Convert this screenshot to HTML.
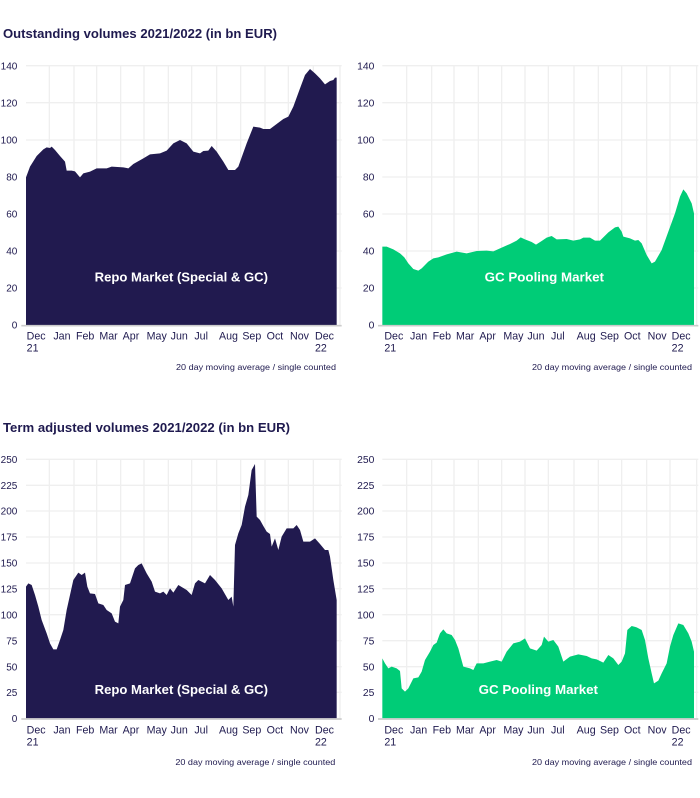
<!DOCTYPE html>
<html><head><meta charset="utf-8"><style>
body{margin:0;background:#fff;width:700px;height:798px;position:relative;overflow:hidden;font-family:"Liberation Sans",sans-serif}
svg{position:absolute}
.t{font-family:"Liberation Sans",sans-serif;fill:#1f1a4f}
</style></head><body>
<svg width="700" height="798" style="left:0;top:0">
<text class="t" x="3" y="38" font-size="13" font-weight="bold" textLength="274" lengthAdjust="spacingAndGlyphs">Outstanding volumes 2021/2022 (in bn EUR)</text>
<text class="t" x="3" y="432" font-size="13" font-weight="bold" textLength="287" lengthAdjust="spacingAndGlyphs">Term adjusted volumes 2021/2022 (in bn EUR)</text>
</svg>

<!-- Top left -->
<svg style="left:0;top:50px" width="350" height="330" viewBox="0 0 1050 990">
<g stroke="#efefef" stroke-width="4">
<line x1="78" x2="1025" y1="47" y2="47"/><line x1="78" x2="1025" y1="158" y2="158"/><line x1="78" x2="1025" y1="270" y2="270"/><line x1="78" x2="1025" y1="381" y2="381"/><line x1="78" x2="1025" y1="492" y2="492"/><line x1="78" x2="1025" y1="603" y2="603"/><line x1="78" x2="1025" y1="714" y2="714"/>
<line x1="148" x2="148" y1="47" y2="825"/><line x1="222" x2="222" y1="47" y2="825"/><line x1="290" x2="290" y1="47" y2="825"/><line x1="362" x2="362" y1="47" y2="825"/><line x1="432" x2="432" y1="47" y2="825"/><line x1="505" x2="505" y1="47" y2="825"/><line x1="575" x2="575" y1="47" y2="825"/><line x1="650" x2="650" y1="47" y2="825"/><line x1="722" x2="722" y1="47" y2="825"/><line x1="795" x2="795" y1="47" y2="825"/><line x1="865" x2="865" y1="47" y2="825"/><line x1="940" x2="940" y1="47" y2="825"/><line x1="1020" x2="1020" y1="47" y2="825"/>
</g>
<path fill="#211a4f" d="M78,382 L90,350 110,318 130,298 140,292 150,294 155,290 165,300 180,318 195,335 200,362 215,362 225,364 240,382 250,370 270,365 290,355 320,355 335,350 370,352 385,355 400,342 430,325 450,313 480,310 500,302 520,280 540,270 560,280 580,305 600,310 610,303 625,302 635,288 650,305 670,335 685,360 705,360 715,350 740,280 760,230 780,233 790,237 810,237 830,222 850,207 865,200 880,170 900,115 915,75 930,57 945,70 960,85 975,103 990,93 1000,90 1005,83 1010,83 1010,825 78,825Z"/>
<line x1="64" x2="1025" y1="827" y2="827" stroke="#ccc" stroke-width="5"/>
<g class="t" font-size="30" text-anchor="end">
<text x="52" y="58">140</text><text x="52" y="169">120</text><text x="52" y="281">100</text><text x="52" y="392">80</text><text x="52" y="503">60</text><text x="52" y="614">40</text><text x="52" y="725">20</text><text x="52" y="836">0</text>
</g>
<g class="t" font-size="32">
<text x="80" y="868">Dec</text><text x="160" y="868">Jan</text><text x="228" y="868">Feb</text><text x="298" y="868">Mar</text><text x="368" y="868">Apr</text><text x="440" y="868">May</text><text x="512" y="868">Jun</text><text x="583" y="868">Jul</text><text x="657" y="868">Aug</text><text x="727" y="868">Sep</text><text x="800" y="868">Oct</text><text x="870" y="868">Nov</text><text x="945" y="868">Dec</text>
<text x="80" y="905">21</text><text x="945" y="905">22</text>
</g>
<text class="t" x="528" y="960" font-size="25" textLength="480" lengthAdjust="spacingAndGlyphs">20 day moving average / single counted</text>
<text x="284" y="695" font-size="40" font-weight="bold" fill="#fff" textLength="520" lengthAdjust="spacingAndGlyphs">Repo Market (Special &amp; GC)</text>
</svg>

<!-- Top right -->
<svg style="left:350px;top:50px" width="350" height="330" viewBox="0 0 1050 990">
<g stroke="#efefef" stroke-width="4">
<line x1="97" x2="1045" y1="47" y2="47"/><line x1="97" x2="1045" y1="158" y2="158"/><line x1="97" x2="1045" y1="270" y2="270"/><line x1="97" x2="1045" y1="381" y2="381"/><line x1="97" x2="1045" y1="492" y2="492"/><line x1="97" x2="1045" y1="603" y2="603"/><line x1="97" x2="1045" y1="714" y2="714"/>
<line x1="170" x2="170" y1="47" y2="825"/><line x1="245" x2="245" y1="47" y2="825"/><line x1="312" x2="312" y1="47" y2="825"/><line x1="385" x2="385" y1="47" y2="825"/><line x1="455" x2="455" y1="47" y2="825"/><line x1="525" x2="525" y1="47" y2="825"/><line x1="595" x2="595" y1="47" y2="825"/><line x1="672" x2="672" y1="47" y2="825"/><line x1="745" x2="745" y1="47" y2="825"/><line x1="815" x2="815" y1="47" y2="825"/><line x1="890" x2="890" y1="47" y2="825"/><line x1="960" x2="960" y1="47" y2="825"/><line x1="1040" x2="1040" y1="47" y2="825"/>
</g>
<path fill="#00cc77" d="M97,590 L110,590 130,598 150,610 163,622 175,640 190,657 205,662 215,655 235,635 250,625 265,622 290,613 320,605 350,610 380,603 410,602 430,604 450,595 480,582 500,572 512,562 525,568 545,576 558,584 575,573 590,563 605,558 620,568 650,567 670,572 690,568 700,563 720,563 735,572 750,572 775,547 795,532 805,530 815,545 820,560 840,565 855,572 865,570 875,580 890,615 905,640 915,635 935,600 955,545 975,490 990,440 1000,418 1010,430 1025,460 1032,490 1032,825 97,825Z"/>
<line x1="84" x2="1045" y1="827" y2="827" stroke="#ccc" stroke-width="5"/>
<g class="t" font-size="31" text-anchor="end">
<text x="73" y="58">140</text><text x="73" y="169">120</text><text x="73" y="281">100</text><text x="73" y="392">80</text><text x="73" y="503">60</text><text x="73" y="614">40</text><text x="73" y="725">20</text><text x="73" y="836">0</text>
</g>
<g class="t" font-size="32">
<text x="103" y="868">Dec</text><text x="180" y="868">Jan</text><text x="248" y="868">Feb</text><text x="318" y="868">Mar</text><text x="388" y="868">Apr</text><text x="460" y="868">May</text><text x="532" y="868">Jun</text><text x="603" y="868">Jul</text><text x="680" y="868">Aug</text><text x="750" y="868">Sep</text><text x="822" y="868">Oct</text><text x="893" y="868">Nov</text><text x="965" y="868">Dec</text>
<text x="103" y="905">21</text><text x="965" y="905">22</text>
</g>
<text class="t" x="546" y="960" font-size="25" textLength="480" lengthAdjust="spacingAndGlyphs">20 day moving average / single counted</text>
<text x="404" y="695" font-size="40" font-weight="bold" fill="#fff" textLength="358" lengthAdjust="spacingAndGlyphs">GC Pooling Market</text>
</svg>

<!-- Bottom left -->
<svg style="left:0;top:440px" width="350" height="340" viewBox="0 0 1050 1020">
<g stroke="#efefef" stroke-width="4">
<line x1="78" x2="1025" y1="58" y2="58"/><line x1="78" x2="1025" y1="136" y2="136"/><line x1="78" x2="1025" y1="213" y2="213"/><line x1="78" x2="1025" y1="291" y2="291"/><line x1="78" x2="1025" y1="369" y2="369"/><line x1="78" x2="1025" y1="446" y2="446"/><line x1="78" x2="1025" y1="524" y2="524"/><line x1="78" x2="1025" y1="602" y2="602"/><line x1="78" x2="1025" y1="680" y2="680"/><line x1="78" x2="1025" y1="757" y2="757"/>
<line x1="148" x2="148" y1="58" y2="835"/><line x1="222" x2="222" y1="58" y2="835"/><line x1="290" x2="290" y1="58" y2="835"/><line x1="362" x2="362" y1="58" y2="835"/><line x1="432" x2="432" y1="58" y2="835"/><line x1="505" x2="505" y1="58" y2="835"/><line x1="575" x2="575" y1="58" y2="835"/><line x1="650" x2="650" y1="58" y2="835"/><line x1="722" x2="722" y1="58" y2="835"/><line x1="795" x2="795" y1="58" y2="835"/><line x1="865" x2="865" y1="58" y2="835"/><line x1="940" x2="940" y1="58" y2="835"/><line x1="1020" x2="1020" y1="58" y2="835"/>
</g>
<path fill="#211a4f" d="M78,440 L85,430 95,435 105,465 115,500 125,540 140,580 150,610 160,628 170,628 180,600 190,570 200,510 210,465 220,420 235,398 245,405 255,398 262,440 270,460 285,462 295,490 310,495 320,510 335,520 345,545 355,550 360,500 370,480 375,435 390,430 400,400 405,385 415,375 425,370 440,400 455,425 465,455 480,460 490,455 500,465 510,445 520,458 535,435 560,450 575,465 585,430 595,420 615,430 630,405 645,420 665,445 685,480 695,470 700,500 705,315 715,280 725,255 735,200 745,165 755,90 765,72 770,230 780,240 790,258 800,275 810,282 815,320 825,295 835,330 845,290 860,265 880,265 890,255 900,270 910,305 930,305 945,295 960,312 975,330 985,330 990,350 1000,420 1010,480 1010,835 78,835Z"/>
<line x1="64" x2="1025" y1="837" y2="837" stroke="#ccc" stroke-width="5"/>
<g class="t" font-size="30" text-anchor="end">
<text x="52" y="69">250</text><text x="52" y="147">225</text><text x="52" y="224">200</text><text x="52" y="302">175</text><text x="52" y="380">150</text><text x="52" y="457">125</text><text x="52" y="535">100</text><text x="52" y="613">75</text><text x="52" y="691">50</text><text x="52" y="768">25</text><text x="52" y="846">0</text>
</g>
<g class="t" font-size="32">
<text x="80" y="880">Dec</text><text x="160" y="880">Jan</text><text x="228" y="880">Feb</text><text x="298" y="880">Mar</text><text x="368" y="880">Apr</text><text x="440" y="880">May</text><text x="512" y="880">Jun</text><text x="583" y="880">Jul</text><text x="657" y="880">Aug</text><text x="727" y="880">Sep</text><text x="800" y="880">Oct</text><text x="870" y="880">Nov</text><text x="945" y="880">Dec</text>
<text x="80" y="917">21</text><text x="945" y="917">22</text>
</g>
<text class="t" x="526" y="975" font-size="25" textLength="480" lengthAdjust="spacingAndGlyphs">20 day moving average / single counted</text>
<text x="284" y="762" font-size="40" font-weight="bold" fill="#fff" textLength="520" lengthAdjust="spacingAndGlyphs">Repo Market (Special &amp; GC)</text>
</svg>

<!-- Bottom right -->
<svg style="left:350px;top:440px" width="350" height="340" viewBox="0 0 1050 1020">
<g stroke="#efefef" stroke-width="4">
<line x1="97" x2="1045" y1="58" y2="58"/><line x1="97" x2="1045" y1="136" y2="136"/><line x1="97" x2="1045" y1="213" y2="213"/><line x1="97" x2="1045" y1="291" y2="291"/><line x1="97" x2="1045" y1="369" y2="369"/><line x1="97" x2="1045" y1="446" y2="446"/><line x1="97" x2="1045" y1="524" y2="524"/><line x1="97" x2="1045" y1="602" y2="602"/><line x1="97" x2="1045" y1="680" y2="680"/><line x1="97" x2="1045" y1="757" y2="757"/>
<line x1="170" x2="170" y1="58" y2="835"/><line x1="245" x2="245" y1="58" y2="835"/><line x1="312" x2="312" y1="58" y2="835"/><line x1="385" x2="385" y1="58" y2="835"/><line x1="455" x2="455" y1="58" y2="835"/><line x1="525" x2="525" y1="58" y2="835"/><line x1="595" x2="595" y1="58" y2="835"/><line x1="672" x2="672" y1="58" y2="835"/><line x1="745" x2="745" y1="58" y2="835"/><line x1="815" x2="815" y1="58" y2="835"/><line x1="890" x2="890" y1="58" y2="835"/><line x1="960" x2="960" y1="58" y2="835"/><line x1="1040" x2="1040" y1="58" y2="835"/>
</g>
<path fill="#00cc77" d="M97,655 L105,670 115,685 125,680 140,685 150,693 155,745 165,755 175,745 190,715 205,712 215,695 225,660 240,635 250,615 260,608 270,580 280,568 290,580 305,585 315,600 325,625 340,680 360,685 370,690 380,670 400,670 420,665 440,660 455,665 470,635 490,610 510,605 525,595 540,625 560,632 575,615 582,590 595,605 610,600 625,620 640,665 660,650 685,643 710,648 725,655 740,658 760,668 775,645 790,655 805,675 815,665 825,640 832,570 845,558 860,562 875,570 885,600 895,655 905,700 912,730 925,722 935,700 950,670 960,620 970,585 985,550 1000,555 1015,580 1025,605 1032,635 1032,835 97,835Z"/>
<line x1="84" x2="1045" y1="837" y2="837" stroke="#ccc" stroke-width="5"/>
<g class="t" font-size="31" text-anchor="end">
<text x="73" y="69">250</text><text x="73" y="147">225</text><text x="73" y="224">200</text><text x="73" y="302">175</text><text x="73" y="380">150</text><text x="73" y="457">125</text><text x="73" y="535">100</text><text x="73" y="613">75</text><text x="73" y="691">50</text><text x="73" y="768">25</text><text x="73" y="846">0</text>
</g>
<g class="t" font-size="32">
<text x="103" y="880">Dec</text><text x="180" y="880">Jan</text><text x="248" y="880">Feb</text><text x="318" y="880">Mar</text><text x="388" y="880">Apr</text><text x="460" y="880">May</text><text x="532" y="880">Jun</text><text x="603" y="880">Jul</text><text x="680" y="880">Aug</text><text x="750" y="880">Sep</text><text x="822" y="880">Oct</text><text x="893" y="880">Nov</text><text x="965" y="880">Dec</text>
<text x="103" y="917">21</text><text x="965" y="917">22</text>
</g>
<text class="t" x="546" y="975" font-size="25" textLength="480" lengthAdjust="spacingAndGlyphs">20 day moving average / single counted</text>
<text x="386" y="762" font-size="40" font-weight="bold" fill="#fff" textLength="358" lengthAdjust="spacingAndGlyphs">GC Pooling Market</text>
</svg>
</body></html>
